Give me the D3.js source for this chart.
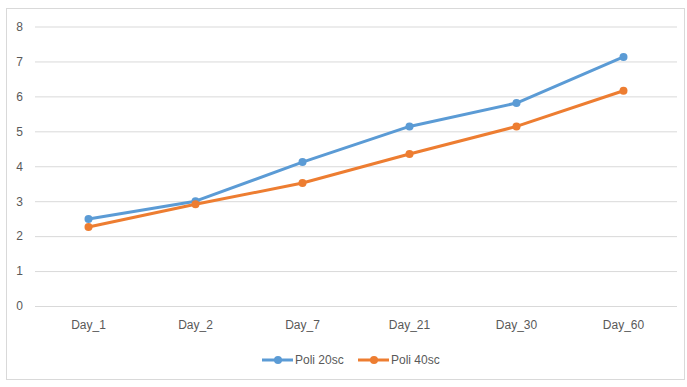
<!DOCTYPE html>
<html>
<head>
<meta charset="utf-8">
<script src="https://cdn.jsdelivr.net/npm/d3@7"></script>
<style>
  html, body { margin: 0; padding: 0; background: #fff; }
  svg { display: block; }
  text { font-family: "Liberation Sans", Arial, sans-serif; fill: #595959; }
</style>
</head>
<body>
<svg id="chart" width="687" height="387"></svg>
<script>
const categories = ["Day_1", "Day_2", "Day_7", "Day_21", "Day_30", "Day_60"];
const poli20 = [2.49, 3.0, 4.12, 5.14, 5.81, 7.13];
const poli40 = [2.26, 2.91, 3.52, 4.35, 5.14, 6.16];
const yTicks = [0, 1, 2, 3, 4, 5, 6, 7, 8];
const seriesNames = ["Poli 20sc", "Poli 40sc"];
const seriesColors = ["#5b9bd5", "#ed7d31"];

const svg = d3.select("#chart");
const W = 687, H = 387;

// outer chart frame
svg.append("rect")
  .attr("x", 6.5).attr("y", 8.5)
  .attr("width", W - 9).attr("height", H - 16)
  .attr("fill", "#fff").attr("stroke", "#d9d9d9").attr("stroke-width", 1);

const plot = { left: 35, right: 677, top: 26.5, bottom: 306 };

const x = d3.scaleBand().domain(categories).range([plot.left, plot.right]);
const y = d3.scaleLinear().domain([0, 8]).range([plot.bottom, plot.top]);

// horizontal gridlines with value labels
const yAxis = d3.axisLeft(y).tickValues(yTicks).tickSize(-(plot.right - plot.left)).tickPadding(12).tickFormat(d3.format("d"));
const gy = svg.append("g").attr("transform", `translate(${plot.left},0)`).call(yAxis);
gy.select(".domain").remove();
gy.selectAll(".tick line").attr("stroke", "#d9d9d9").attr("stroke-width", 1);
gy.selectAll(".tick text").attr("font-size", 12).attr("fill", "#595959")
  .style("font-family", "Liberation Sans, Arial, sans-serif");

// category labels
const xAxis = d3.axisBottom(x).tickSize(0).tickPadding(14);
const gx = svg.append("g").attr("transform", `translate(0,${plot.bottom})`).call(xAxis);
gx.select(".domain").remove();
gx.selectAll(".tick text").attr("font-size", 12).attr("fill", "#595959")
  .style("font-family", "Liberation Sans, Arial, sans-serif");

const cx = d => x(d) + x.bandwidth() / 2;
const line = d3.line().x((d, i) => cx(categories[i])).y(d => y(d));

[poli20, poli40].forEach((vals, k) => {
  svg.append("path").datum(vals)
    .attr("d", line).attr("fill", "none")
    .attr("stroke", seriesColors[k]).attr("stroke-width", 3).attr("stroke-linejoin", "round");
  svg.selectAll(null).data(vals).enter().append("circle")
    .attr("cx", (d, i) => cx(categories[i])).attr("cy", d => y(d))
    .attr("r", 4).attr("fill", seriesColors[k]);
});

// legend
const legend = svg.append("g").attr("transform", "translate(0,360)");
const legendX = [262, 358];
seriesNames.forEach((name, k) => {
  const g = legend.append("g").attr("transform", `translate(${legendX[k]},0)`);
  g.append("line").attr("x1", 0).attr("x2", 31).attr("y1", 0).attr("y2", 0)
    .attr("stroke", seriesColors[k]).attr("stroke-width", 3);
  g.append("circle").attr("cx", 16).attr("cy", 0).attr("r", 4).attr("fill", seriesColors[k]);
  g.append("text").attr("x", 33).attr("y", 4).attr("font-size", 12).text(name);
});
</script>
</body>
</html>
